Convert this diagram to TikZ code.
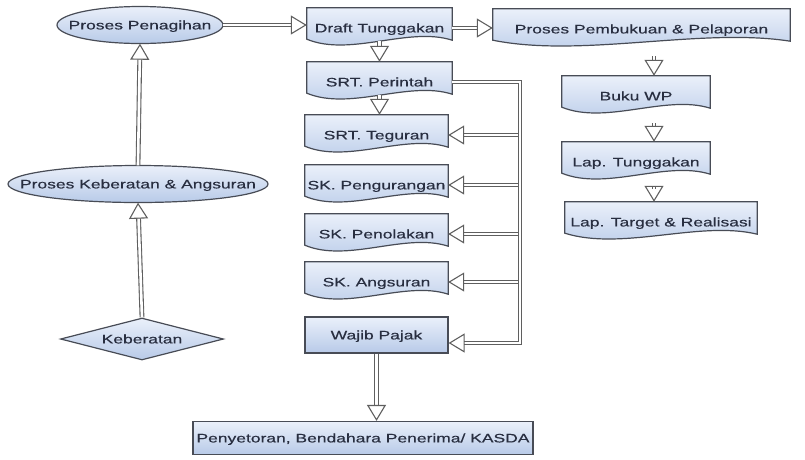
\documentclass[tikz,border=0pt]{standalone}
\usepackage{fontspec}
\setmainfont[FakeStretch=1.42,FakeBold=0.4]{Liberation Sans}
\usetikzlibrary{arrows.meta,shapes.geometric,calc,backgrounds}
\definecolor{fillblue}{RGB}{184,202,232}
\definecolor{fillbluetop}{RGB}{234,240,250}
\definecolor{edgegray}{RGB}{72,76,86}
\definecolor{txtcol}{RGB}{40,46,64}
\definecolor{conncol}{RGB}{95,95,95}
\begin{document}
\begin{tikzpicture}[x=1pt,y=-1pt,
  font=\fontsize{12.3}{14}\selectfont,
  shapefill/.style={draw=edgegray, line width=1.2pt, top color=fillbluetop, bottom color=fillblue},
  txtbox/.style={rectangle, inner sep=0pt, text=txtcol, text height=8.8pt, text depth=0pt},
  docbox/.style={txtbox, minimum height=40},
  rectbox/.style={txtbox, shapefill},
  ellbox/.style={txtbox},
  diabox/.style={diamond, inner sep=0pt, aspect=3.9, minimum width=163, minimum height=42,
                 text=txtcol, text height=8.8pt, text depth=0pt, shapefill},
  conn/.style={draw=conncol, line width=1.1pt, double=white, double distance=2.6pt,
               -{Triangle[open, length=16pt, width=19pt, line width=1.1pt]}},
]
\useasboundingbox (0,0) rectangle (805,459);

% ellipses and diamond
\node[ellbox, minimum width=166, minimum height=37] (pen) at (140,25) {Proses Penagihan};
\node[ellbox, minimum width=260, minimum height=37] (keb) at (138,184) {Proses Keberatan \& Angsuran};
\node[diabox] (kbt) at (142,339) {Keberatan};

% document boxes (top T, height 40)
\node[docbox, minimum width=145] (draft) at (379.5,28) {Draft Tunggakan};
\node[docbox, minimum width=297] (pemb) at (641.5,29) {Proses Pembukuan \& Pelaporan};
\node[docbox, minimum width=145] (perintah) at (379.5,82) {SRT. Perintah};
\node[docbox, minimum width=143] (teguran) at (376.5,135) {SRT. Teguran};
\node[docbox, minimum width=143] (pengurangan) at (376.5,185) {SK. Pengurangan};
\node[docbox, minimum width=143] (penolakan) at (376.5,234) {SK. Penolakan};
\node[docbox, minimum width=143] (angsuran) at (376.5,282) {SK. Angsuran};
\node[docbox, minimum width=148] (bukuwp) at (636,96) {Buku WP};
\node[docbox, minimum width=148] (laptung) at (636,162) {Lap. Tunggakan};
\node[docbox, minimum width=192] (target) at (661,222) {Lap. Target \& Realisasi};

% plain rectangles
\node[rectbox, minimum width=143, minimum height=36] (wajib) at (376.5,335) {Wajib Pajak};
\node[rectbox, minimum width=340, minimum height=33] (penyet) at (363,438) {Penyetoran, Bendahara Penerima/ KASDA};

\begin{pgfonlayer}{background}
\foreach \n in {draft,pemb,perintah,teguran,pengurangan,penolakan,angsuran,bukuwp,laptung,target}{
  \draw[shapefill] (\n.north west) -- (\n.north east) -- ([yshift=8pt]\n.south east)
    .. controls ($(\n.south east)!0.3!(\n.south west)+(0,22pt)$)
       and ($(\n.south east)!0.7!(\n.south west)+(0,-9pt)$) .. ([yshift=9pt]\n.south west) -- cycle;
}
\draw[shapefill] (pen.center) ellipse [x radius=83pt, y radius=18.5pt];
\draw[shapefill] (keb.center) ellipse [x radius=130pt, y radius=18.5pt];
\end{pgfonlayer}

% helper coordinates
\coordinate (busx) at (520,0);
\coordinate (busbot) at (520,343);
\coordinate (colx) at (654,0);

% connectors
\draw[conn] (kbt.north) -- (keb.south);
\draw[conn] (keb.north) -- (pen.south);
\draw[conn] (pen.east) -- (pen.east -| draft.west);
\draw[conn] (draft.east) -- (draft.east -| pemb.west);
\draw[conn, shorten <=7pt] (draft.south) -- (draft.south |- perintah.north);
\draw[conn, shorten <=7pt] (perintah.south) -- (perintah.south |- teguran.north);
\draw[conn] (teguran.east -| busx) -- (teguran.east);
\draw[conn] (pengurangan.east -| busx) -- (pengurangan.east);
\draw[conn] (penolakan.east -| busx) -- (penolakan.east);
\draw[conn] (angsuran.east -| busx) -- (angsuran.east);
\draw[conn] (perintah.east) -| (busbot) -- (busbot -| wajib.east);
\draw[conn] (wajib.south) -- (wajib.south |- penyet.north);
\draw[conn, shorten <=7pt] (pemb.south -| colx) -- (bukuwp.north -| colx);
\draw[conn, shorten <=7pt] (bukuwp.south -| colx) -- (laptung.north -| colx);
\draw[conn, shorten <=7pt] (laptung.south -| colx) -- (target.north -| colx);
\end{tikzpicture}
\end{document}
